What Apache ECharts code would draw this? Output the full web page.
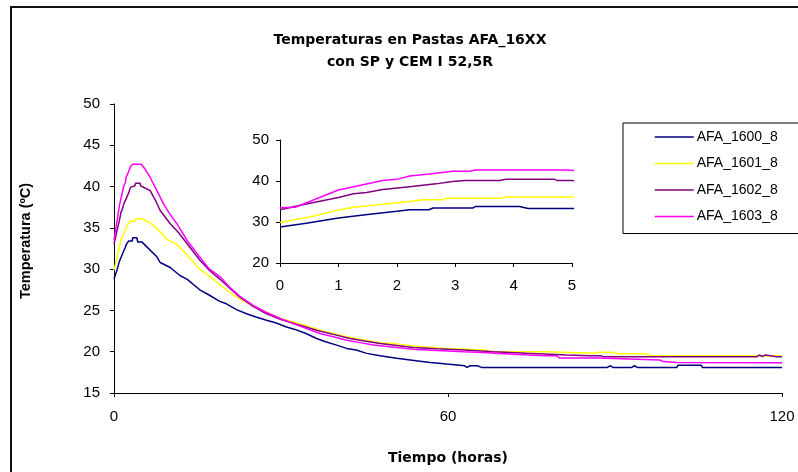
<!DOCTYPE html>
<html>
<head>
<meta charset="utf-8">
<script src="https://cdn.jsdelivr.net/npm/echarts@6/dist/echarts.min.js"></script>
<style>
  html, body { margin: 0; padding: 0; background: #fff; }
  #chart { width: 798px; height: 472px; }
</style>
</head>
<body>
<div id="chart"></div>
<script>
// series names + colours (Excel default palette)
const seriesNames = ['AFA_1600_8', 'AFA_1601_8', 'AFA_1602_8', 'AFA_1603_8'];
const seriesColors = ['#000080', '#ffff00', '#800080', '#ff00ff'];

// [tiempo (h), temperatura (ºC)]
const afa1600 = [[0,28.8],[0.45,29.7],[1,31.0],[1.5,31.8],[2,32.6],[2.22,33.0],[2.55,33.0],[2.62,33.4],[3.3,33.4],[3.35,33.8],[4.1,33.8],[4.25,33.3],[5,33.3],[5.9,32.7],[7.7,31.5],[8.3,30.8],[10.1,30.2],[11.9,29.2],[13.1,28.8],[15.4,27.5],[17,26.9],[19,26.1],[20.2,25.8],[22,25.1],[23.8,24.6],[25.5,24.2],[27.4,23.8],[29,23.5],[31,23.0],[32.5,22.7],[34.5,22.2],[36.4,21.6],[38,21.2],[40,20.8],[41.8,20.4],[43.5,20.2],[45.4,19.8],[47.8,19.5],[50.8,19.2],[53.2,19.0],[56.8,18.7],[59.8,18.5],[63,18.3],[63.4,18.1],[64,18.3],[65.3,18.3],[66,18.1],[74.7,18.1],[74.9,18.3],[75.3,18.1],[87.9,18.1],[88.2,18.3],[88.6,18.1],[89.2,18.3],[89.6,18.1],[92.2,18.1],[92.5,18.3],[93,18.1],[93.5,18.3],[94,18.1],[101.1,18.1],[101.3,18.35],[105.5,18.35],[105.7,18.1],[120,18.1]];
const afa1601 = [[0,29.9],[0.5,31.2],[1,32.9],[1.26,33.6],[1.76,34.3],[2.22,35.0],[2.45,35.4],[2.8,35.4],[2.85,35.8],[3.8,35.8],[3.85,36.1],[5,36.1],[6,35.8],[7.1,35.3],[8.9,34.1],[9.5,33.6],[11.3,33.0],[12.5,32.2],[13.7,31.3],[15.4,30.0],[17.8,28.8],[19,28.1],[20.8,27.2],[22.6,26.4],[25,25.5],[27.4,24.8],[30,24.0],[33.4,23.4],[37,22.6],[41.8,21.8],[44.2,21.5],[47.8,21.1],[50.8,20.95],[53.8,20.7],[59.8,20.4],[67,20.2],[67.6,20.0],[77.7,20.0],[78,19.8],[86.5,19.8],[87,19.95],[89.6,19.95],[90.3,19.75],[95.7,19.75],[96.3,19.5],[120,19.5]];
const afa1602 = [[0,33.0],[0.45,34.4],[1,36.0],[1.26,36.9],[1.48,37.2],[1.76,37.9],[2.22,38.6],[2.67,39.3],[2.95,39.9],[3.18,40.1],[3.76,40.1],[3.87,40.4],[4.7,40.4],[4.75,40.1],[5,40.1],[6.5,39.5],[7.4,38.4],[8.3,37.1],[10.1,35.5],[11.5,34.5],[13.1,33.1],[15.4,31.1],[17.2,29.8],[19,28.8],[20.8,27.7],[22.6,26.6],[25,25.5],[27.4,24.6],[30,23.9],[33.4,23.2],[36.4,22.6],[39.4,22.1],[42.4,21.6],[45,21.3],[47.8,21.0],[53.8,20.5],[58,20.35],[62.8,20.2],[68.2,20.0],[74.1,19.8],[81.3,19.6],[85.5,19.5],[87.5,19.5],[87.9,19.4],[105,19.4],[105.3,19.6],[105.6,19.4],[110,19.4],[110.3,19.6],[110.7,19.4],[112.4,19.4],[112.7,19.6],[113,19.4],[114.8,19.4],[115.1,19.6],[115.5,19.4],[116,19.6],[116.4,19.4],[117,19.6],[117.3,19.4],[119,19.4],[119.3,19.6],[119.6,19.4],[120,19.4]];
const afa1603 = [[0,33.5],[0.26,33.6],[1,37.8],[1.36,38.9],[1.76,40.1],[2,40.4],[2.22,41.2],[2.56,41.7],[2.95,42.4],[3.24,42.4],[3.35,42.7],[4.9,42.7],[5.7,42.0],[6.5,41.1],[7.7,39.5],[8.9,37.9],[10.1,36.6],[11.3,35.5],[13.1,33.5],[14.9,31.9],[17,30.1],[19,29.1],[20.8,27.8],[22.6,26.7],[25,25.6],[27.4,24.75],[30,24.0],[32.2,23.4],[34.6,22.8],[37,22.2],[39.4,21.8],[41.8,21.4],[44.2,21.1],[46.6,20.8],[50.8,20.5],[53.8,20.3],[58,20.15],[62.8,20.0],[66.3,19.9],[71.7,19.7],[77.2,19.5],[79.5,19.5],[80,19.25],[87,19.25],[87.3,19.1],[98.1,19.0],[98.7,18.8],[101.1,18.7],[120,18.65]];
const allData = [afa1600, afa1601, afa1602, afa1603];

// axis ranges
const mainX = { min: 0, max: 120, interval: 60 };
const mainY = { min: 15, max: 50, interval: 5 };
const insetX = { min: 0, max: 5, interval: 1 };
const insetY = { min: 20, max: 50, interval: 10 };

const chart = echarts.init(document.getElementById('chart'));

const labelFont = 'Liberation Sans, Arial, sans-serif';
function axisBase(margin) {
  return {
    type: 'value',
    axisLine: { show: true, onZero: false, lineStyle: { color: '#000', width: 1 } },
    axisTick: { show: true, length: 4, lineStyle: { color: '#000' } },
    splitLine: { show: false },
    axisLabel: { color: '#000', fontSize: 15, fontFamily: labelFont, margin: margin }
  };
}

let series = [];
allData.forEach((d, i) => {
  // main plot
  series.push({
    name: seriesNames[i], type: 'line', data: d,
    xAxisIndex: 0, yAxisIndex: 0,
    symbol: 'none', color: seriesColors[i],
    lineStyle: { width: 1.5, color: seriesColors[i] }
  });
  // zoomed inset (first 5 hours)
  series.push({
    name: seriesNames[i], type: 'line', data: d,
    xAxisIndex: 1, yAxisIndex: 1,
    symbol: 'none', color: seriesColors[i], clip: true,
    lineStyle: { width: 1.5, color: seriesColors[i] }
  });
});

chart.setOption({
  animation: false,
  backgroundColor: '#fff',
  title: {
    text: 'Temperaturas en Pastas AFA_16XX\ncon SP y CEM I 52,5R',
    left: 405, top: 24, textAlign: 'center',
    textStyle: { fontFamily: 'DejaVu Sans', fontWeight: 'bold', fontSize: 14, lineHeight: 22, color: '#000' }
  },
  legend: {
    data: seriesNames,
    orient: 'vertical',
    left: 623, top: 123,
    padding: [7, 40, 10, 31],
    itemWidth: 39, itemHeight: 14, itemGap: 12.5,
    itemStyle: { opacity: 0, borderWidth: 0 },
    lineStyle: { width: 1.5 },
    borderColor: '#000', borderWidth: 1,
    textStyle: { fontFamily: labelFont, fontSize: 14, color: '#000', padding: [0, 0, 0, -2] }
  },
  grid: [
    { left: 114, top: 104, width: 668, height: 289 },
    { left: 280, top: 140, width: 292, height: 123 }
  ],
  xAxis: [
    Object.assign(axisBase(16), mainX, {
      gridIndex: 0,
      name: 'Tiempo (horas)', nameLocation: 'middle', nameGap: 58,
      nameTextStyle: { fontFamily: 'DejaVu Sans', fontWeight: 'bold', fontSize: 14, color: '#000' }
    }),
    Object.assign(axisBase(15), insetX, { gridIndex: 1 })
  ],
  yAxis: [
    Object.assign(axisBase(14), mainY, { gridIndex: 0 }),
    Object.assign(axisBase(11), insetY, { gridIndex: 1 })
  ],
  graphic: [
    {
      type: 'rect', silent: true, z: -10,
      shape: { x: 11, y: 7, width: 820, height: 500 },
      style: { fill: 'none', stroke: '#111', lineWidth: 2 }
    },
    {
      type: 'text', silent: true,
      x: 26, y: 241, rotation: Math.PI / 2,
      style: {
        text: 'Temperatura (ºC)', align: 'center', verticalAlign: 'middle',
        font: 'bold 14.5px Liberation Sans, Arial, sans-serif', fill: '#000'
      }
    }
  ],
  series: series
});
</script>
</body>
</html>
